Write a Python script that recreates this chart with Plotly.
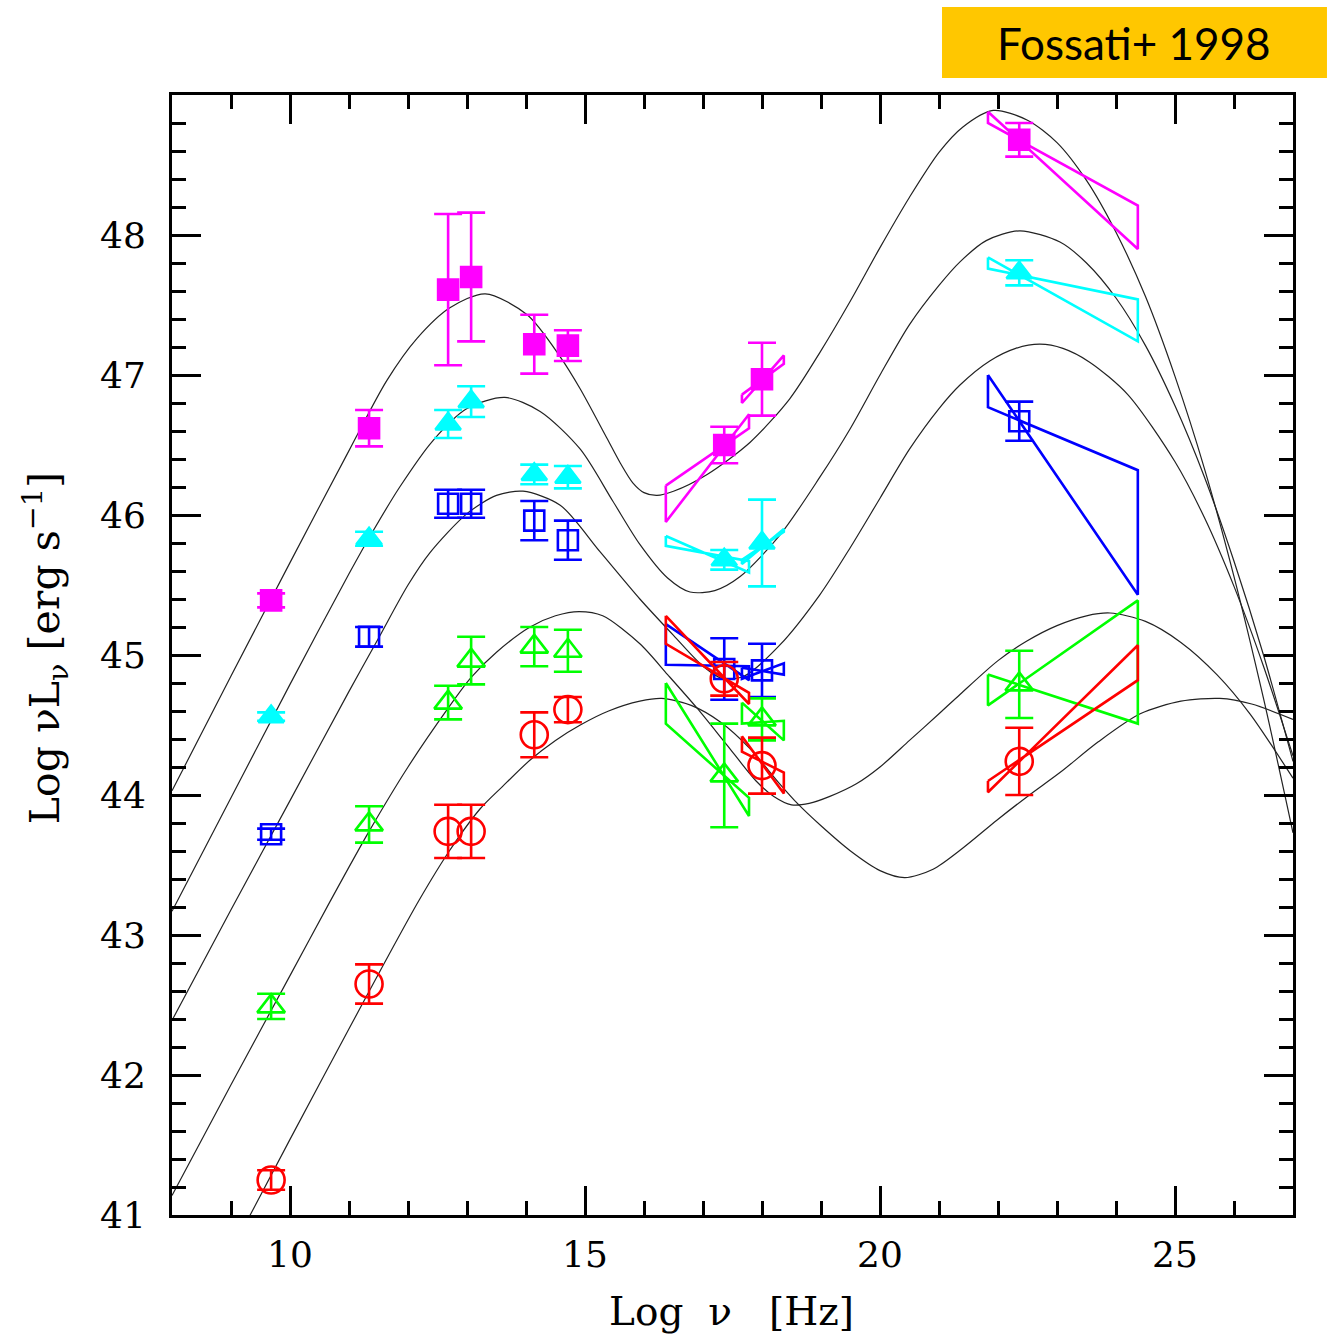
import plotly.graph_objects as go

# ---------------- data ----------------
nu_pts = [9.68, 11.34, 12.68, 13.07, 14.14, 14.71, 17.36, 18.00, 22.36]

mag_L = [45.39, 46.62, 47.61, 47.70, 47.22, 47.21, 46.50, 46.97, 48.68]
mag_err = [0.05, 0.13, 0.54, 0.46, 0.21, 0.11, 0.13, 0.26, 0.12]
cyan_L = [44.56, 45.83, 46.65, 46.81, 46.29, 46.27, 45.68, 45.80, 47.73]
cyan_err = [0.03, 0.05, 0.10, 0.11, 0.07, 0.08, 0.07, 0.31, 0.09]
blue_L = [43.72, 45.13, 46.08, 46.08, 45.96, 45.82, 44.90, 44.89, 46.67]
blue_err = [0.04, 0.07, 0.10, 0.10, 0.14, 0.14, 0.22, 0.19, 0.14]
green_L = [42.49, 43.79, 44.66, 44.96, 45.06, 45.03, 44.14, 44.54, 44.79]
green_err = [0.09, 0.13, 0.12, 0.17, 0.14, 0.15, 0.37, 0.15, 0.24]
red_L = [41.25, 42.65, 43.74, 43.74, 44.43, 44.61, 44.83, 44.21, 44.24]
red_err = [0.07, 0.14, 0.19, 0.19, 0.16, 0.09, 0.12, 0.20, 0.24]

# bow-tie spectral ranges (log nu)
soft_x_nu = [16.37, 17.78]
hard_x_nu = [17.66, 18.37]
gamma_nu = [21.83, 24.37]
# corners: [top-left, bottom-left, top-right, bottom-right]
mag_soft = [46.21, 45.95, 46.72, 46.62]
mag_hard = [46.86, 46.80, 47.14, 47.08]
mag_gamma = [48.88, 48.80, 48.21, 47.90]
cyan_soft = [45.85, 45.78, 45.67, 45.59]
cyan_hard = [45.68, 45.65, 45.90, 45.88]
cyan_gamma = [47.84, 47.76, 47.54, 47.24]
blue_soft = [45.22, 44.93, 44.92, 44.82]
blue_hard = [44.91, 44.83, 44.94, 44.86]
blue_gamma = [47.00, 46.77, 46.32, 45.43]
green_soft = [44.80, 44.51, 43.98, 43.85]
green_hard = [44.66, 44.51, 44.53, 44.39]
green_gamma = [44.86, 44.64, 45.39, 44.51]
red_soft = [45.28, 45.08, 44.73, 44.65]
red_hard = [44.42, 44.31, 44.16, 44.01]
red_gamma = [44.10, 44.02, 45.07, 44.82]

# model SED curves
curveA_x = [8.0, 9.0, 10.0, 11.0, 11.64, 12.15, 12.71, 13.31, 14.02, 14.58, 14.92, 15.37, 15.6, 15.81,
            16.0, 16.22, 16.5, 17.07, 17.8, 18.47, 18.98, 19.5, 20.0, 20.5, 21.0, 21.4, 21.92, 22.5,
            23.0, 23.5, 24.0, 24.5, 25.0, 25.5, 26.0, 26.5, 27.0]
curveA_y = [44.03, 44.85, 45.66, 46.46, 46.96, 47.26, 47.48, 47.58, 47.43, 47.13, 46.90, 46.55, 46.37,
            46.23, 46.16, 46.14, 46.17, 46.29, 46.52, 46.83, 47.16, 47.53, 47.91, 48.27, 48.59, 48.77,
            48.89, 48.82, 48.66, 48.39, 48.02, 47.56, 46.99, 46.33, 45.56, 44.69, 43.73]
curveB_x = [8.0, 9.0, 10.0, 11.0, 11.4, 11.86, 12.42, 13.0, 13.64, 14.24, 14.92, 15.47, 15.93, 16.4,
            16.78, 17.2, 17.63, 18.31, 18.98, 19.5, 20.0, 20.5, 21.0, 21.36, 21.8, 22.37, 23.05, 23.5,
            24.0, 24.5, 25.0, 25.5, 26.0, 26.5, 27.0]
curveB_y = [43.17, 43.98, 44.79, 45.58, 45.88, 46.20, 46.53, 46.76, 46.84, 46.74, 46.47, 46.10, 45.79,
            45.55, 45.45, 45.46, 45.56, 45.86, 46.27, 46.62, 47.00, 47.36, 47.64, 47.81, 47.96, 48.03,
            47.95, 47.80, 47.55, 47.21, 46.78, 46.27, 45.67, 45.00, 44.24]
curveC_x = [8.0, 9.0, 10.0, 11.0, 11.5, 12.0, 12.37, 13.0, 13.5, 13.95, 14.58, 15.25, 15.93, 16.5,
            17.0, 17.34, 17.7, 18.3, 18.98, 19.5, 20.0, 20.5, 21.0, 21.36, 21.86, 22.3, 22.71, 23.1,
            23.56, 24.2, 25.0, 25.5, 26.0, 26.5, 27.0]
curveC_y = [42.39, 43.18, 43.96, 44.74, 45.12, 45.50, 45.73, 46.01, 46.14, 46.17, 46.07, 45.74, 45.40,
            45.14, 44.92, 44.83, 44.85, 45.07, 45.43, 45.77, 46.12, 46.47, 46.76, 46.93, 47.10, 47.19,
            47.22, 47.19, 47.09, 46.86, 46.38, 45.98, 45.49, 44.92, 44.28]
curveD_x = [8.0, 9.0, 10.0, 10.68, 11.34, 12.0, 12.68, 13.07, 13.5, 14.07, 14.5, 14.9, 15.3, 15.93,
            16.4, 16.9, 17.4, 17.9, 18.2, 18.5, 18.8, 19.15, 19.6, 20.0, 20.5, 21.0, 21.36, 22.0,
            22.49, 23.0, 23.5, 23.9, 24.5, 25.1, 25.71, 26.27, 27.0]
curveD_y = [41.14, 41.93, 42.71, 43.24, 43.74, 44.20, 44.62, 44.84, 45.02, 45.20, 45.28, 45.31, 45.28,
            45.08, 44.86, 44.62, 44.36, 44.10, 43.99, 43.93, 43.94, 43.99, 44.08, 44.20, 44.39, 44.58,
            44.72, 44.96, 45.10, 45.21, 45.28, 45.30, 45.24, 45.09, 44.86, 44.58, 44.12]
curveE_x = [9.2, 10.0, 11.0, 11.6, 12.19, 12.7, 13.22, 13.6, 14.07, 14.5, 14.92, 15.4, 15.93, 16.3,
            16.8, 17.3, 17.8, 18.3, 18.6, 19.0, 19.5, 20.0, 20.42, 20.9, 21.4, 21.98, 22.5, 23.05,
            23.7, 24.41, 25.1, 25.76, 26.3, 27.0]
curveE_y = [40.90, 41.54, 42.33, 42.80, 43.25, 43.60, 43.90, 44.06, 44.25, 44.39, 44.50, 44.60, 44.67,
            44.69, 44.64, 44.52, 44.33, 44.08, 43.94, 43.78, 43.60, 43.46, 43.41, 43.47, 43.62, 43.82,
            43.99, 44.16, 44.38, 44.58, 44.67, 44.69, 44.65, 44.54]

x_ticks = [10, 15, 20, 25]
y_ticks = [41, 42, 43, 44, 45, 46, 47, 48]

# ---------------- figure ----------------
fig = go.Figure()

for cx, cy in [(curveA_x, curveA_y), (curveB_x, curveB_y), (curveC_x, curveC_y),
               (curveD_x, curveD_y), (curveE_x, curveE_y)]:
    fig.add_trace(go.Scatter(x=cx, y=cy, mode="lines",
                             line=dict(color="#222222", width=1.2, shape="spline", smoothing=0.8),
                             hoverinfo="skip", showlegend=False))


def bowtie(nu_range, c):
    x1, x2 = nu_range
    a, b, cc, d = c
    return [x1, x2, x2, x1, x1, None], [a, d, cc, b, a, None]


series = [
    ("#FF00FF", mag_L, mag_err, "square", 20, (mag_soft, mag_hard, mag_gamma)),
    ("#00FFFF", cyan_L, cyan_err, "triangle-up", 22, (cyan_soft, cyan_hard, cyan_gamma)),
    ("#0000FF", blue_L, blue_err, "square-open", 20, (blue_soft, blue_hard, blue_gamma)),
    ("#00FF00", green_L, green_err, "triangle-up-open", 24, (green_soft, green_hard, green_gamma)),
    ("#FF0000", red_L, red_err, "circle-open", 27, (red_soft, red_hard, red_gamma)),
]

for color, L, err, sym, size, ties in series:
    bx, by = [], []
    for rng, c in zip((soft_x_nu, hard_x_nu, gamma_nu), ties):
        xx, yy = bowtie(rng, c)
        bx += xx
        by += yy
    fig.add_trace(go.Scatter(x=bx, y=by, mode="lines",
                             line=dict(color=color, width=2.6),
                             hoverinfo="skip", showlegend=False))
    fig.add_trace(go.Scatter(
        x=nu_pts, y=L, mode="markers",
        marker=dict(symbol=sym, size=size, color=color, line=dict(color=color, width=2.6)),
        error_y=dict(type="data", array=err, visible=True, color=color, thickness=2.6, width=14),
        showlegend=False))

axis_common = dict(
    showline=True, linewidth=3, linecolor="black", mirror="ticks",
    ticks="inside", tickwidth=2.6, tickcolor="black",
    showgrid=False, zeroline=False,
    tickfont=dict(family="DejaVu Serif", size=36, color="black"),
)

fig.update_xaxes(range=[8, 27], tickmode="array", tickvals=x_ticks, ticklen=29,
                 ticklabelstandoff=6,
                 minor=dict(dtick=1, tick0=0, ticklen=14, tickwidth=2.6, tickcolor="black",
                            ticks="inside", showgrid=False),
                 **axis_common)
fig.update_yaxes(range=[41, 49], tickmode="array", tickvals=y_ticks, ticklen=29,
                 ticklabelstandoff=16,
                 minor=dict(dtick=0.2, tick0=41, ticklen=14, tickwidth=2.6, tickcolor="black",
                            ticks="inside", showgrid=False),
                 **axis_common)

# axis titles
fig.add_annotation(xref="paper", yref="paper", x=0.4987, y=-0.0866,
                   text="Log\u00a0\u00a0\u03bd\u00a0\u00a0\u00a0[Hz]", showarrow=False,
                   xanchor="center", yanchor="middle",
                   font=dict(family="DejaVu Serif", size=39, color="black"))
fig.add_annotation(xref="paper", yref="paper", x=-0.1133, y=0.506,
                   text="Log\u00a0\u03bdL<sub>\u03bd</sub>\u00a0[erg\u00a0s<sup>\u22121</sup>]",
                   showarrow=False, textangle=-90,
                   xanchor="center", yanchor="middle",
                   font=dict(family="DejaVu Serif", size=41, color="black"))

# label box
fig.add_shape(type="rect", xref="paper", yref="paper", x0=0.6869, x1=1.0303, y0=1.0152, y1=1.0786,
              fillcolor="#FFC700", line=dict(width=0), layer="above")
fig.add_annotation(xref="paper", yref="paper", x=0.8582, y=1.0464, text="Fossati+ 1998",
                   showarrow=False, xanchor="center", yanchor="middle",
                   font=dict(family="Lato", size=44, color="black"))

fig.update_layout(width=1329, height=1338,
                  margin=dict(l=172, r=36, t=95, b=123),
                  plot_bgcolor="white", paper_bgcolor="white")

fig.write_html("out.html")
